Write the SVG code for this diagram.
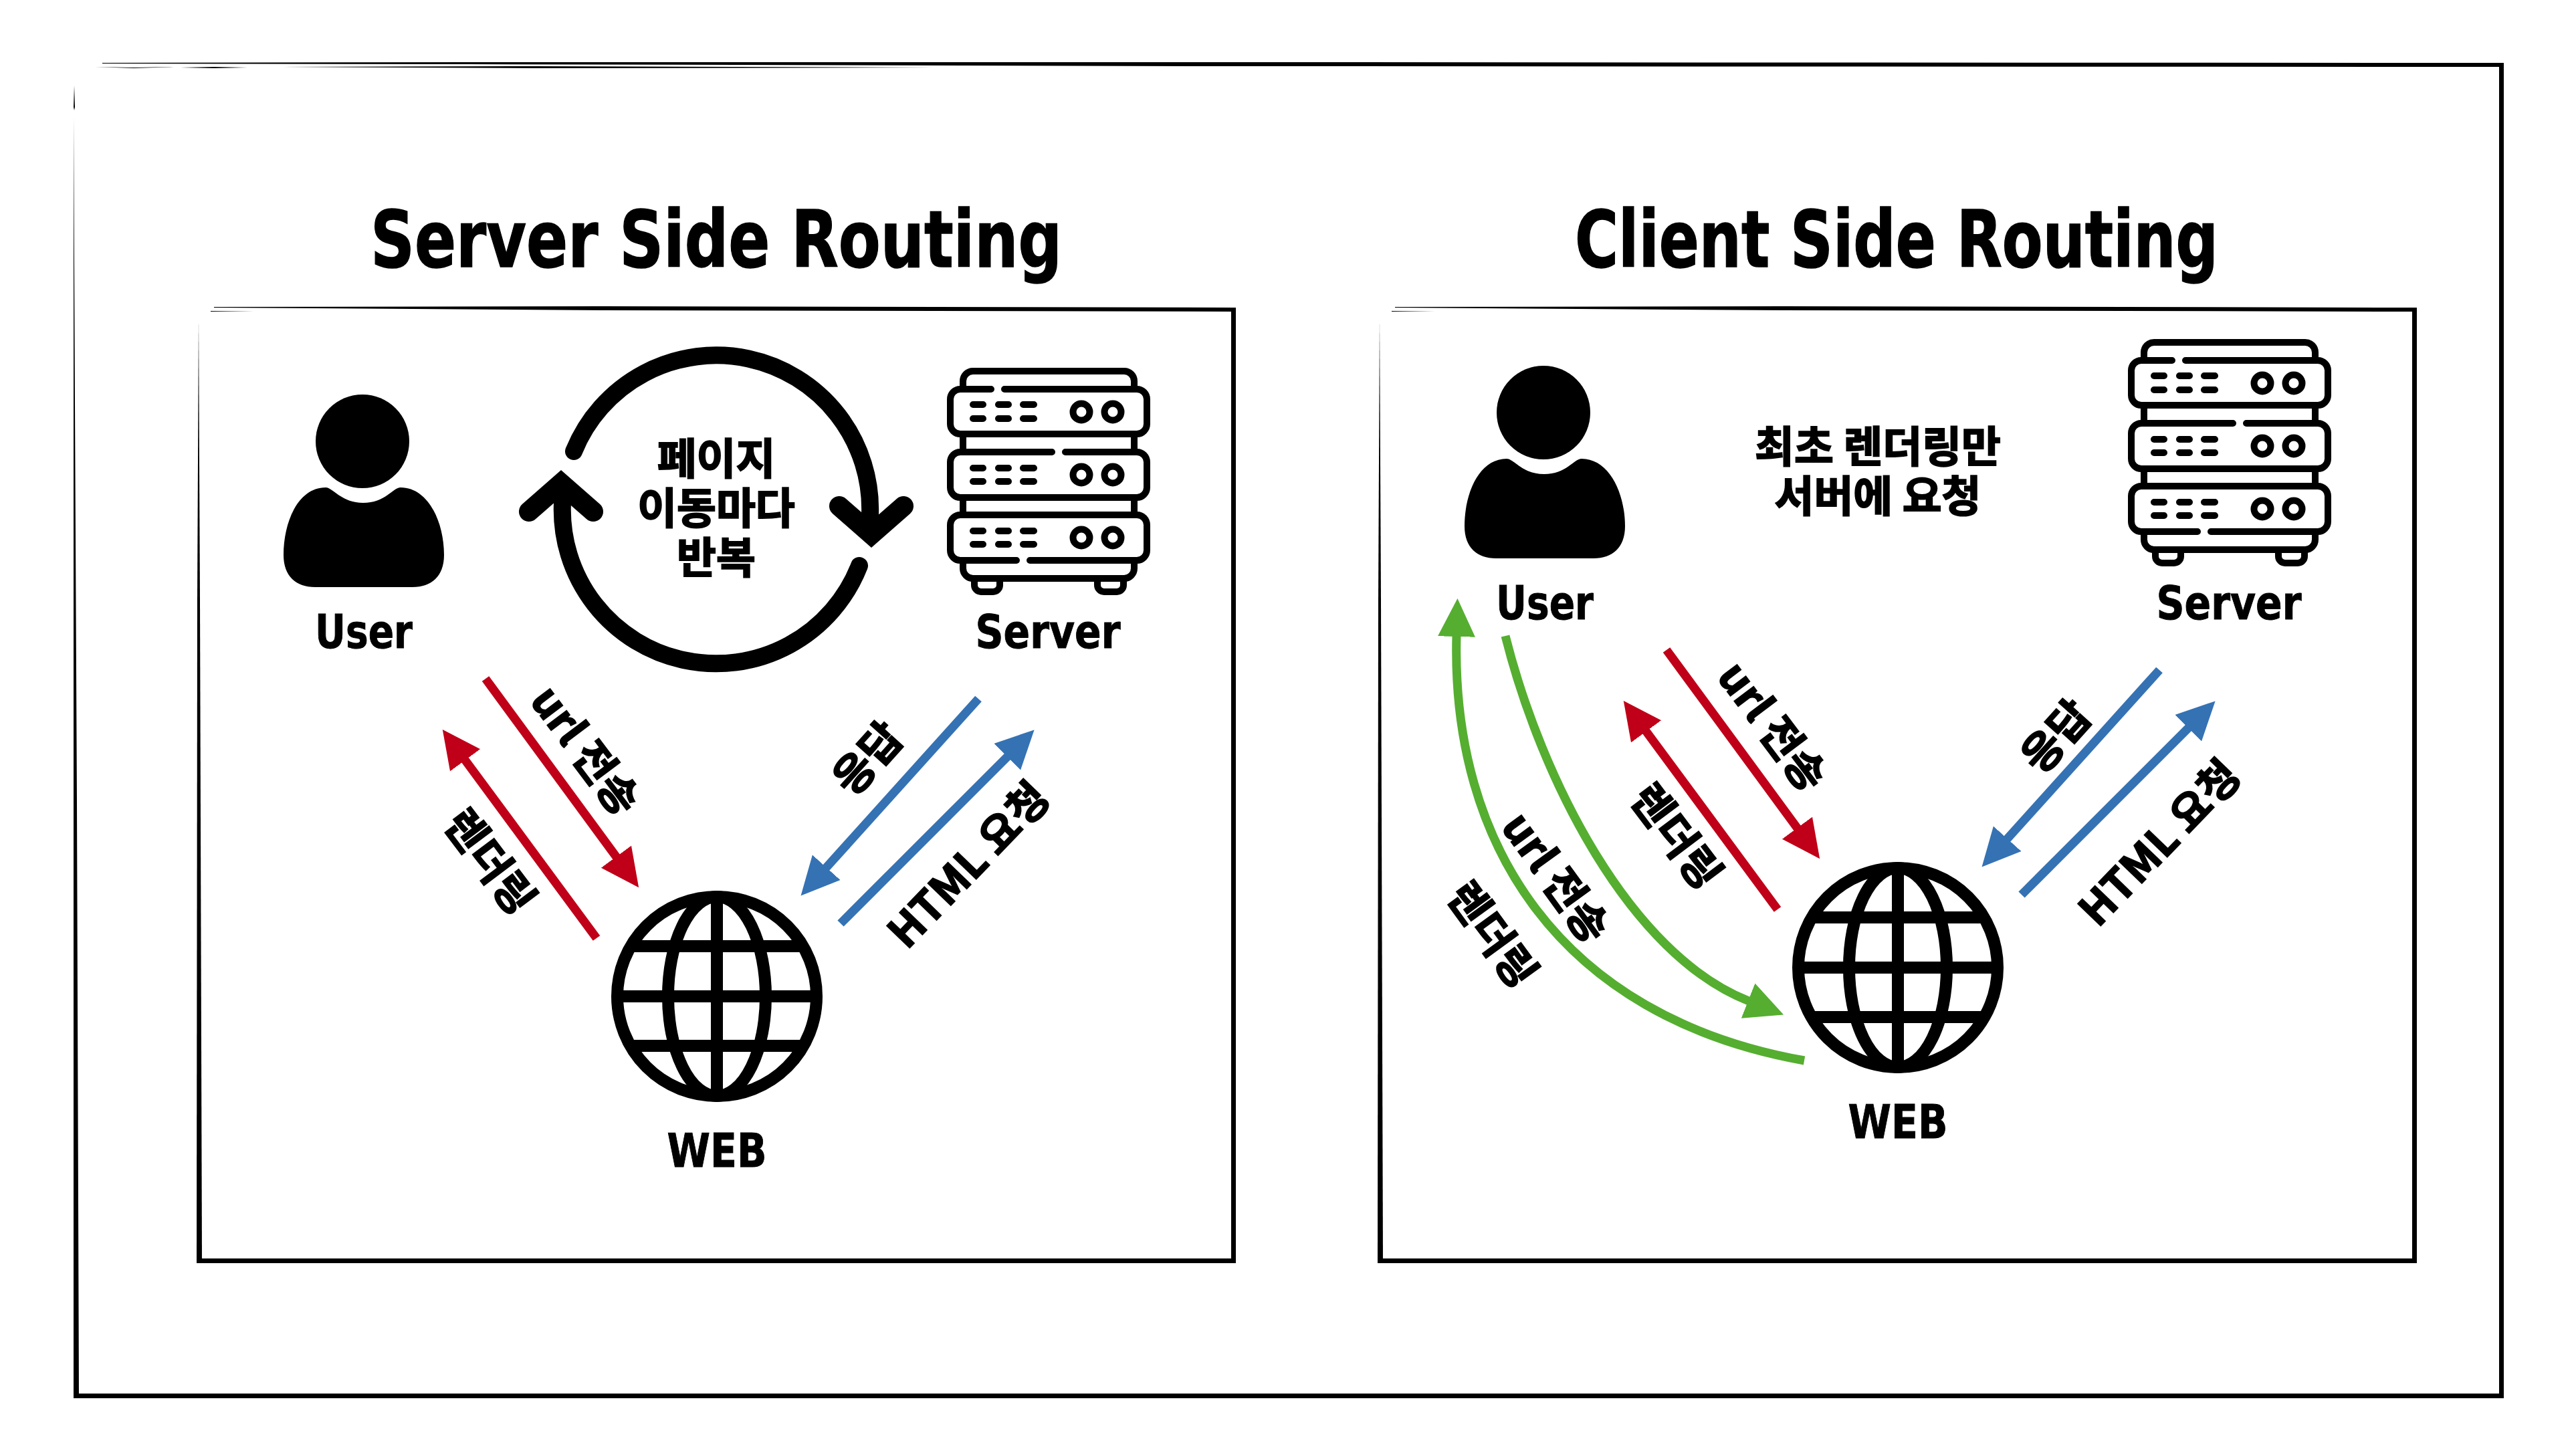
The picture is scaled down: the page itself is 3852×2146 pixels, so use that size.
<svg xmlns="http://www.w3.org/2000/svg" xmlns:xlink="http://www.w3.org/1999/xlink" width="3852" height="2146" viewBox="0 0 3852 2146">
<style>
text{font-family:"DejaVu Sans","Noto Sans CJK KR",sans-serif;font-weight:700;fill:#000;text-anchor:middle}
.title{font-size:118px;stroke:#000;stroke-width:1.5}
.name{font-size:70px;stroke:#000;stroke-width:1}
.ko{font-family:"Noto Sans CJK KR",sans-serif;font-size:64px;stroke:#000;stroke-width:2}
.rot{font-family:"Noto Sans CJK KR",sans-serif;font-size:64px;stroke:#000;stroke-width:2}
.ic{fill:none;stroke:#000;stroke-width:10;stroke-linecap:round}
.gl{fill:none;stroke:#000;stroke-width:18}
.red{stroke:#c00018;stroke-width:13;fill:none;marker-end:url(#mr)}
.blue{stroke:#3572b4;stroke-width:13;fill:none;marker-end:url(#mb)}
.green{stroke:#55ae30;stroke-width:13;fill:none;marker-end:url(#mg)}
.loop{fill:none;stroke:#000;stroke-width:26;stroke-linecap:round}
.head{fill:none;stroke:#000;stroke-width:30;stroke-linecap:round;stroke-linejoin:miter}
.sk{fill:#000}
</style>
<defs>
<marker id="mr" markerUnits="userSpaceOnUse" markerWidth="60" markerHeight="60" refX="1" refY="28" orient="auto"><path d="M0 0L57 28L0 56Z" fill="#c00018"/></marker>
<marker id="mb" markerUnits="userSpaceOnUse" markerWidth="60" markerHeight="60" refX="1" refY="28" orient="auto"><path d="M0 0L57 28L0 56Z" fill="#3572b4"/></marker>
<marker id="mg" markerUnits="userSpaceOnUse" markerWidth="60" markerHeight="60" refX="1" refY="28" orient="auto"><path d="M0 0L57 28L0 56Z" fill="#55ae30"/></marker>
<g id="userIcon">
<circle cx="542" cy="660" r="70"/>
<path d="M487 729C498 729 510 752 543 752C576 752 588 729 599 729C640 729 664 780 664 830C664 862 645 878 617 878H471C443 878 424 862 424 830C424 780 446 729 487 729Z"/>
</g>
<g id="srvIcon" class="ic">
<path d="M1440 577V570a15 15 0 0 1 15-15H1681a15 15 0 0 1 15 15V577M1440 649V676M1696 649V676M1440 744V770M1696 744V770M1440 838V850a15 15 0 0 0 15 15H1681a15 15 0 0 0 15-15V838"/>
<path d="M1457 865V875a10 10 0 0 0 10 10H1485a10 10 0 0 0 10-10V865M1641 865V875a10 10 0 0 0 10 10H1670a10 10 0 0 0 10-10V865"/>
<path d="M1502 582H1700a15 15 0 0 1 15 15V634a15 15 0 0 1-15 15H1436a15 15 0 0 1-15-15V597a15 15 0 0 1 15-15H1482"/>
<path d="M1593 676H1700a15 15 0 0 1 15 15V729a15 15 0 0 1-15 15H1436a15 15 0 0 1-15-15V691a15 15 0 0 1 15-15H1573"/>
<path d="M1540 838H1700a15 15 0 0 0 15-15V785a15 15 0 0 0-15-15H1436a15 15 0 0 0-15 15V823a15 15 0 0 0 15 15H1520"/>
<path d="M1455 605H1470M1493 605H1508M1530 605H1546M1455 626H1470M1493 626H1508M1530 626H1546M1455 700H1470M1493 700H1508M1530 700H1546M1455 720H1470M1493 720H1508M1530 720H1546M1455 794H1470M1493 794H1508M1530 794H1546M1455 814H1470M1493 814H1508M1530 814H1546"/>
<circle cx="1617" cy="616" r="12.5"/><circle cx="1664" cy="616" r="12.5"/><circle cx="1617" cy="710" r="12.5"/><circle cx="1664" cy="710" r="12.5"/><circle cx="1617" cy="804" r="12.5"/><circle cx="1664" cy="804" r="12.5"/>
</g>
<g id="webIcon" class="gl">
<circle cx="1072" cy="1490" r="149"/>
<ellipse cx="1072" cy="1490" rx="73" ry="149"/>
<path d="M1072 1341V1639M923 1490H1221M943 1415H1201M943 1564H1201"/>
</g>
</defs>
<rect width="3852" height="2146" fill="#fff"/>
<g id="frames" class="sk">
<path d="M153 94L700 93L1800 93L3744 94L3744 100L1800 99L700 96L153 95Z"/>
<path d="M142 100L200 101L260 100L200 102Z"/><path d="M270 101L320 100L370 101L320 102Z"/><path d="M420 100L800 99L1400 101L800 102Z"/>
<path d="M111 128L112 160L111 165L110 160Z"/><path d="M110 175L112 600L115 1200L118 2091L110 2091L110 1200L110 600Z"/>
<path d="M3737 94H3744V2091H3737Z"/><path d="M110 2084L1800 2084L3744 2084V2091L1800 2091L110 2091Z"/>
<path d="M320 459L900 458L1848 460V466L900 464L320 460Z"/><path d="M315 465L380 466L315 466Z"/>
<path d="M297 478L299 900L302 1889H294L295 900Z"/><path d="M1841 460H1848V1889H1841Z"/><path d="M294 1882L1848 1882V1889H294Z"/>
<path d="M2086 459L2666 458L3614 460V466L2666 464L2086 460Z"/><path d="M2081 465L2146 466L2081 466Z"/>
<path d="M2063 478L2065 900L2068 1889H2060L2061 900Z"/><path d="M3607 460H3614V1889H3607Z"/><path d="M2060 1882L3614 1882V1889H2060Z"/>
</g>
<g id="connectors">
<path class="red" d="M726 1015L922 1282"/>
<path class="red" d="M892 1403L695 1136"/>
<path class="blue" d="M1463 1045L1235 1298"/>
<path class="blue" d="M1257 1381L1507 1131"/>
<path class="red" d="M2492 972L2688 1239"/>
<path class="red" d="M2658 1360L2461 1093"/>
<path class="blue" d="M3229 1002L3001 1255"/>
<path class="blue" d="M3023 1338L3273 1088"/>
<path class="green" d="M2251 951C2305 1165 2437 1427 2615 1497"/>
<path class="green" d="M2698 1586C2330 1520 2170 1260 2178 951"/>
<path class="loop" d="M858 675A230 230 0 0 1 1301 770"/>
<path class="loop" d="M1285 846A230 230 0 0 1 841 752"/>
<path class="head" d="M1255 757L1303 799L1351 757"/>
<path class="head" d="M887 765L839 723L791 765"/>
</g>
<g id="title-ssr"><text class="title" x="1071" y="399" textLength="1034" lengthAdjust="spacingAndGlyphs">Server Side Routing</text></g>
<g id="title-csr"><text class="title" x="2836" y="399" textLength="962" lengthAdjust="spacingAndGlyphs">Client Side Routing</text></g>
<g id="ssr-user"><use href="#userIcon"/><text class="name" x="544" y="969" textLength="146" lengthAdjust="spacingAndGlyphs">User</text></g>
<g id="ssr-server"><use href="#srvIcon"/><text class="name" x="1567" y="969" textLength="217" lengthAdjust="spacingAndGlyphs">Server</text></g>
<g id="ssr-web"><use href="#webIcon"/><text class="name" x="1072" y="1745" textLength="149" lengthAdjust="spacingAndGlyphs">WEB</text></g>
<g id="ssr-loop-label"><text class="ko" x="1071" y="709">페이지</text><text class="ko" x="1071" y="783">이동마다</text><text class="ko" x="1071" y="857">반복</text></g>
<g id="ssr-labels">
<text class="rot" transform="translate(875 1123) rotate(53)" y="22">url 전송</text>
<text class="rot" transform="translate(732 1289) rotate(53)" y="22">렌더링</text>
<text class="rot" transform="translate(1298 1135) rotate(-48)" y="22">응답</text>
<text class="rot" transform="translate(1449 1294) rotate(-46)" y="22">HTML 요청</text>
</g>
<g id="csr-user" transform="translate(1766 -43)"><use href="#userIcon"/><text class="name" x="544" y="969" textLength="146" lengthAdjust="spacingAndGlyphs">User</text></g>
<g id="csr-server" transform="translate(1766 -43)"><use href="#srvIcon"/><text class="name" x="1567" y="969" textLength="217" lengthAdjust="spacingAndGlyphs">Server</text></g>
<g id="csr-web" transform="translate(1766 -43)"><use href="#webIcon"/><text class="name" x="1072" y="1745" textLength="149" lengthAdjust="spacingAndGlyphs">WEB</text></g>
<g id="csr-note"><text class="ko" x="2808" y="691">최초 렌더링만</text><text class="ko" x="2808" y="765">서버에 요청</text></g>
<g id="csr-labels">
<text class="rot" transform="translate(2650 1087) rotate(53)" y="22">url 전송</text>
<text class="rot" transform="translate(2506 1251) rotate(53)" y="22">렌더링</text>
<text class="rot" transform="translate(3075 1102) rotate(-48)" y="22">응답</text>
<text class="rot" transform="translate(3230 1261) rotate(-46)" y="22">HTML 요청</text>
<text class="rot" transform="translate(2326 1313) rotate(54)" y="22">url 전송</text>
<text class="rot" transform="translate(2231 1398) rotate(54)" y="22">렌더링</text>
</g>
</svg>
